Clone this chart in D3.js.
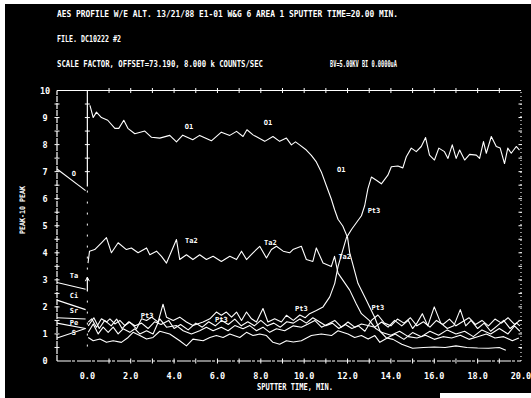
<!DOCTYPE html>
<html><head><meta charset="utf-8">
<script src="https://cdn.jsdelivr.net/npm/d3@7"></script>
<style>
html,body{margin:0;padding:0;background:#fff;}
svg{display:block;}
text{fill:#fff;font-family:"DejaVu Sans Mono",monospace;font-weight:bold;}
</style></head>
<body><svg id="c" width="531" height="398"></svg>
<script>
// ---------- data ----------
const titleLines = [
  "AES PROFILE W/E ALT.  13/21/88  E1-01  W&G 6 AREA 1  SPUTTER TIME=20.00 MIN.",
  "FILE. DC10222  #2",
  "SCALE FACTOR, OFFSET=73.190,  8.000 k COUNTS/SEC",
  "BV=5.00KV BI 0.0000uA"
];
const xTickValues = [0, 2, 4, 6, 8, 10, 12, 14, 16, 18, 20];
const xTickLabels = ["0.0","2.0","4.0","6.0","8.0","10.0","12.0","14.0","16.0","18.0","20.0"];
const yTickValues = [0,1,2,3,4,5,6,7,8,9,10];
const xTitle = "SPUTTER TIME, MIN.";
const yTitle = "PEAK-10 PEAK";

// pre-sputter survey segments (start at left axis, end at time 0)
const preNames = ["O","Ta","Ci","Sr","Pe","S"];
const preStart = [7.1, 2.9, 2.25, 1.6, 1.4, 0.85];
const preEnd   = [6.3, 2.65, 1.9, 1.55, 1.2, 1.2];
const preLabelV = [6.85, 3.05, 2.33, 1.78, 1.32, 0.95];

// profile series: [time (min), peak-to-peak]
const O1 = [[0.12,9.45],[0.27,9.0],[0.42,9.2],[0.65,9.0],[0.94,8.9],[1.27,8.6],[1.45,8.6],[1.68,8.9],[1.87,8.6],[2.19,8.4],[2.65,8.5],[2.96,8.27],[3.34,8.24],[3.8,8.34],[4.11,8.1],[4.4,8.35],[4.86,8.18],[5.18,8.34],[5.72,8.14],[6.18,8.46],[6.57,8.34],[6.88,8.49],[7.18,8.3],[7.36,8.55],[7.64,8.36],[8.18,8.12],[8.56,8.3],[8.87,8.12],[9.18,8.24],[9.41,7.99],[9.6,8.1],[9.79,7.99],[10.1,7.8],[10.33,7.6],[10.56,7.36],[10.79,6.99],[11.02,6.49],[11.25,5.99],[11.4,5.6],[11.56,5.24],[11.78,4.99],[12.0,4.57],[12.1,4.0],[12.48,2.87],[12.87,2.25],[13.02,2.0],[13.25,1.62],[13.5,1.1],[13.8,0.85],[14.1,0.8],[14.5,0.62],[15.0,0.47],[15.5,0.5],[16.0,0.52],[16.5,0.5],[17.0,0.56],[17.5,0.5],[18.0,0.48],[18.5,0.47],[19.0,0.5],[19.3,0.4]];
const Ta2 = [[0.03,3.62],[0.1,4.06],[0.34,4.12],[0.65,4.37],[0.88,4.56],[1.11,4.0],[1.42,4.37],[1.8,4.12],[2.03,4.18],[2.34,4.0],[2.73,4.18],[2.88,3.93],[3.19,4.06],[3.42,3.87],[3.65,3.62],[3.88,4.06],[4.11,4.49],[4.26,3.75],[4.57,3.93],[4.87,3.75],[5.18,3.93],[5.49,3.75],[5.8,3.87],[6.18,3.68],[6.57,3.87],[6.88,3.75],[7.11,4.06],[7.34,3.75],[7.64,4.0],[7.95,4.24],[8.26,3.81],[8.49,4.12],[8.72,4.24],[9.03,4.06],[9.33,4.0],[9.48,4.12],[9.87,4.24],[10.1,3.75],[10.4,3.68],[10.56,4.18],[10.87,3.62],[11.25,3.49],[11.4,3.87],[11.56,3.25],[12.1,2.62],[12.4,2.12],[12.64,1.75],[13.0,1.5],[13.3,1.2],[13.6,1.05],[14.0,0.95],[14.4,1.1],[14.8,0.9],[15.2,0.85],[15.6,0.95],[16.0,0.8],[16.4,0.9],[16.8,0.85],[17.2,0.95],[17.6,0.8],[18.0,0.9],[18.4,1.0],[18.8,0.85],[19.2,0.9],[19.6,0.75],[19.9,0.85]];
const Pt3 = [[0.04,1.44],[0.2,1.56],[0.42,1.25],[0.65,1.56],[0.88,1.44],[1.04,1.56],[1.27,1.37],[1.5,1.5],[1.73,1.31],[1.96,1.44],[2.27,1.19],[2.5,1.56],[2.73,1.5],[2.96,1.62],[3.26,1.44],[3.49,2.1],[3.65,1.62],[3.96,1.5],[4.26,1.62],[4.57,1.44],[4.87,1.31],[5.34,1.44],[5.65,1.56],[5.95,1.81],[6.18,1.69],[6.41,1.81],[6.65,1.62],[6.88,1.81],[7.11,1.5],[7.34,1.81],[7.57,1.56],[7.8,1.44],[8.1,1.94],[8.33,1.44],[8.64,1.56],[8.95,1.44],[9.18,1.69],[9.5,1.5],[9.8,1.7],[10.05,1.6],[10.25,1.75],[10.56,1.87],[10.87,2.0],[11.18,2.37],[11.41,2.87],[11.56,3.49],[11.95,4.56],[12.19,4.87],[12.64,5.37],[12.79,5.74],[12.94,6.37],[13.1,6.8],[13.33,6.68],[13.56,6.55],[13.86,6.87],[14.02,7.18],[14.32,7.21],[14.55,7.14],[14.71,7.55],[14.94,7.87],[15.17,7.74],[15.4,7.93],[15.6,8.26],[15.78,7.61],[16.01,7.43],[16.21,7.87],[16.47,7.74],[16.63,7.49],[16.83,7.99],[17.01,7.49],[17.17,7.8],[17.4,7.43],[17.63,7.64],[17.94,7.61],[18.09,7.49],[18.27,8.11],[18.4,7.68],[18.63,8.3],[18.86,7.93],[19.04,7.87],[19.24,7.3],[19.39,7.87],[19.55,7.68],[19.78,7.93],[19.93,7.8]];
const C1 = [[0.04,1.06],[0.27,1.37],[0.5,1.0],[0.73,1.25],[0.96,1.06],[1.19,1.25],[1.42,1.0],[1.65,1.19],[1.96,1.06],[2.19,1.19],[2.42,1.0],[2.73,1.12],[3.03,1.0],[3.34,1.56],[3.65,1.25],[4.11,1.31],[4.42,1.12],[4.8,1.0],[5.18,1.12],[5.49,1.25],[5.8,1.12],[6.18,1.25],[6.49,1.12],[6.8,1.31],[7.18,1.19],[7.49,1.31],[7.8,1.12],[8.1,1.25],[8.41,1.06],[8.72,1.19],[9.1,1.12],[9.5,1.3],[9.87,1.25],[10.18,1.37],[10.49,1.5],[10.8,1.25],[11.1,1.37],[11.41,1.5],[11.72,1.25],[12.02,1.44],[12.33,1.25],[12.64,1.37],[12.95,1.31],[13.26,1.25],[13.57,1.44],[13.87,1.25],[14.17,1.5],[14.5,1.3],[14.8,1.5],[15.0,1.2],[15.2,1.4],[15.45,1.75],[15.7,1.3],[16.0,2.0],[16.3,1.4],[16.6,1.2],[16.9,1.3],[17.2,1.9],[17.45,1.3],[17.7,1.5],[18.0,1.2],[18.3,1.4],[18.6,1.1],[18.9,1.3],[19.2,1.5],[19.5,1.2],[19.8,1.4],[19.95,1.3]];
const Sr1 = [[0.04,1.3],[0.3,1.6],[0.55,1.2],[0.8,1.5],[1.1,1.3],[1.35,1.55],[1.6,1.2],[1.9,1.45],[2.2,1.3],[2.5,1.4],[2.8,1.2],[3.1,1.45],[3.4,1.35],[3.75,1.5],[4.0,1.2],[4.3,1.35],[4.65,1.15],[5.0,1.4],[5.3,1.25],[5.6,1.45],[5.9,1.3],[6.2,1.5],[6.5,1.35],[6.8,1.55],[7.1,1.3],[7.4,1.45],[7.7,1.3],[8.0,1.5],[8.3,1.3],[8.6,1.4],[8.9,1.25],[9.2,1.45],[9.5,1.4],[9.8,1.55],[10.1,1.4],[10.4,1.6],[10.7,1.45],[11.0,1.3],[11.3,1.4],[11.6,1.2],[11.9,1.35],[12.2,1.2],[12.5,1.3],[12.8,1.1],[13.1,1.5],[13.4,1.7],[13.7,1.4],[14.0,1.3],[14.3,1.55],[14.6,1.4],[14.9,1.6],[15.2,1.3],[15.5,1.45],[15.8,1.25],[16.1,1.5],[16.4,1.35],[16.7,1.55],[17.0,1.3],[17.3,1.45],[17.6,1.6],[17.9,1.35],[18.2,1.5],[18.5,1.3],[18.8,1.55],[19.1,1.4],[19.4,1.6],[19.7,1.35],[19.95,1.5]];
const S1 = [[0.04,0.87],[0.27,0.75],[0.58,0.81],[0.88,0.69],[1.19,0.75],[1.57,0.69],[1.88,0.87],[2.11,1.06],[2.42,0.94],[2.73,0.81],[3.03,0.87],[3.34,1.1],[3.8,1.0],[4.26,0.75],[4.57,0.56],[4.87,0.81],[5.34,0.75],[5.65,0.87],[5.95,0.94],[6.26,0.87],[6.57,1.0],[7.03,0.87],[7.34,1.06],[7.64,0.94],[7.95,1.0],[8.26,0.94],[8.56,0.69],[8.87,0.62],[9.18,0.75],[9.5,0.7],[9.87,0.75],[10.33,0.94],[10.79,1.0],[11.26,0.94],[11.56,1.12],[12.02,1.0],[12.33,0.87],[12.64,0.94],[12.95,0.81],[13.26,0.94],[13.49,0.69],[13.87,0.87],[14.2,1.0],[14.6,0.8],[15.0,1.05],[15.4,0.9],[15.8,1.1],[16.2,0.95],[16.6,1.15],[17.0,1.0],[17.4,1.1],[17.8,0.9],[18.2,1.15],[18.6,1.0],[19.0,1.2],[19.4,1.0],[19.7,1.3],[19.95,1.1]];

// curve labels: text, time, value
const labelText = ["O1","O1","O1","Ta2","Ta2","Ta2","Pt3","Pt3","Pt3","Pt3","Pt3"];
const labelT    = [4.69, 8.33, 11.71, 4.8, 8.44, 11.87, 13.22, 2.76, 6.18, 9.87, 13.4];
const labelV    = [8.7, 8.83, 7.09, 4.47, 4.39, 3.87, 5.59, 1.69, 1.57, 1.97, 1.98];

// ---------- drawing ----------
const svg = d3.select("#c");
svg.append("rect").attr("x",5).attr("y",4).attr("width",526).attr("height",394).attr("fill","#000");
svg.append("rect").attr("x",440).attr("y",393).attr("width",91).attr("height",5).attr("fill","#fff");

const x = d3.scaleLinear().domain([-1.4, 20]).range([57, 521]);
const y = d3.scaleLinear().domain([0, 10]).range([361, 90.5]);
const W = "#fff";

// title block
const tl = [[57,17,341],[57,42,64],[57,67,206],[330,67,67]];
titleLines.forEach((s,i)=>{
  svg.append("text").attr("x",tl[i][0]).attr("y",tl[i][1]).attr("font-size",8)
    .attr("textLength",tl[i][2]).attr("lengthAdjust","spacingAndGlyphs").text(s);
});

// frame lines
const g = svg.append("g").attr("stroke",W).attr("fill","none");
g.append("line").attr("x1",x(-1.4)).attr("x2",x(20)).attr("y1",y(10)).attr("y2",y(10)).attr("stroke-width",1.2);
g.append("line").attr("x1",x(-1.4)).attr("x2",x(20)).attr("y1",y(0)).attr("y2",y(0)).attr("stroke-width",1.2).attr("stroke-dasharray","14,1,3,2");
g.append("line").attr("x1",x(-1.4)).attr("x2",x(-1.4)).attr("y1",y(0)).attr("y2",y(10)).attr("stroke-width",1.2).attr("stroke-dasharray","6,1");
g.append("line").attr("x1",x(20)).attr("x2",x(20)).attr("y1",y(0)).attr("y2",y(10)).attr("stroke-width",1.1).attr("stroke-dasharray","1,3");
// time-zero divider
g.append("line").attr("x1",x(0)).attr("x2",x(0)).attr("y1",y(10)).attr("y2",y(6.45)).attr("stroke-width",1.2);
g.append("line").attr("x1",x(0)).attr("x2",x(0)).attr("y1",y(6.3)).attr("y2",y(0.3)).attr("stroke-width",1).attr("stroke-dasharray","2,9");
// arrow near Ta at time zero
g.append("line").attr("x1",x(0)).attr("x2",x(0)).attr("y1",y(2.6)).attr("y2",y(3.1)).attr("stroke-width",1.2);
g.append("path").attr("d",`M${x(0)-2},${y(2.95)}L${x(0)},${y(3.1)}L${x(0)+2},${y(2.95)}`).attr("stroke-width",1);

// tick marks
const half = d3.range(0.5, 10, 0.5);
half.forEach(v=>{
  g.append("line").attr("x1",x(-1.4)-2.5).attr("x2",x(-1.4)+2.5).attr("y1",y(v)).attr("y2",y(v)).attr("stroke-width",1);
  g.append("line").attr("x1",x(20)-2.5).attr("x2",x(20)+1).attr("y1",y(v)).attr("y2",y(v)).attr("stroke-width",1);
  if (v>6.5) g.append("line").attr("x1",x(0)-2.5).attr("x2",x(0)+2.5).attr("y1",y(v)).attr("y2",y(v)).attr("stroke-width",1);
});
d3.range(1, 20, 1).forEach(t=>{
  g.append("line").attr("x1",x(t)).attr("x2",x(t)).attr("y1",y(10)-2.5).attr("y2",y(10)+2.5).attr("stroke-width",1);
  g.append("line").attr("x1",x(t)).attr("x2",x(t)).attr("y1",y(0)-2.5).attr("y2",y(0)+2.5).attr("stroke-width",1);
});

// axis tick labels
xTickValues.forEach((t,i)=>{
  svg.append("text").attr("x",x(t)).attr("y",y(0)+18).attr("text-anchor","middle").attr("font-size",8.5).text(xTickLabels[i]);
});
yTickValues.forEach(v=>{
  svg.append("text").attr("x",45).attr("y",y(v)+3).attr("text-anchor","middle").attr("font-size",8.5).text(String(v));
});
svg.append("text").attr("x",295).attr("y",390).attr("text-anchor","middle").attr("font-size",8)
  .attr("textLength",76).attr("lengthAdjust","spacingAndGlyphs").text(xTitle);
svg.append("text").attr("transform","translate(25,210) rotate(-90)").attr("text-anchor","middle").attr("font-size",7.5)
  .attr("textLength",48).attr("lengthAdjust","spacingAndGlyphs").text(yTitle);

// pre-sputter segments
preNames.forEach((n,i)=>{
  g.append("line").attr("x1",x(-1.4)).attr("y1",y(preStart[i])).attr("x2",x(-0.08)).attr("y2",y(preEnd[i])).attr("stroke-width",1.1);
  svg.append("text").attr("x",x(-0.62)).attr("y",y(preLabelV[i])).attr("font-size",7).attr("text-anchor","middle").text(n);
});

// profile curves
const line = d3.line().x(d=>x(d[0])).y(d=>y(d[1]));
[S1, C1, Sr1, Pt3, Ta2, O1].forEach(s=>{
  svg.append("path").datum(s).attr("d",line).attr("fill","none").attr("stroke",W).attr("stroke-width",1.1).attr("stroke-linejoin","round");
});

// curve labels
labelText.forEach((s,i)=>{
  svg.append("text").attr("x",x(labelT[i])).attr("y",y(labelV[i])+3).attr("font-size",7).attr("text-anchor","middle").text(s);
});
</script></body></html>
